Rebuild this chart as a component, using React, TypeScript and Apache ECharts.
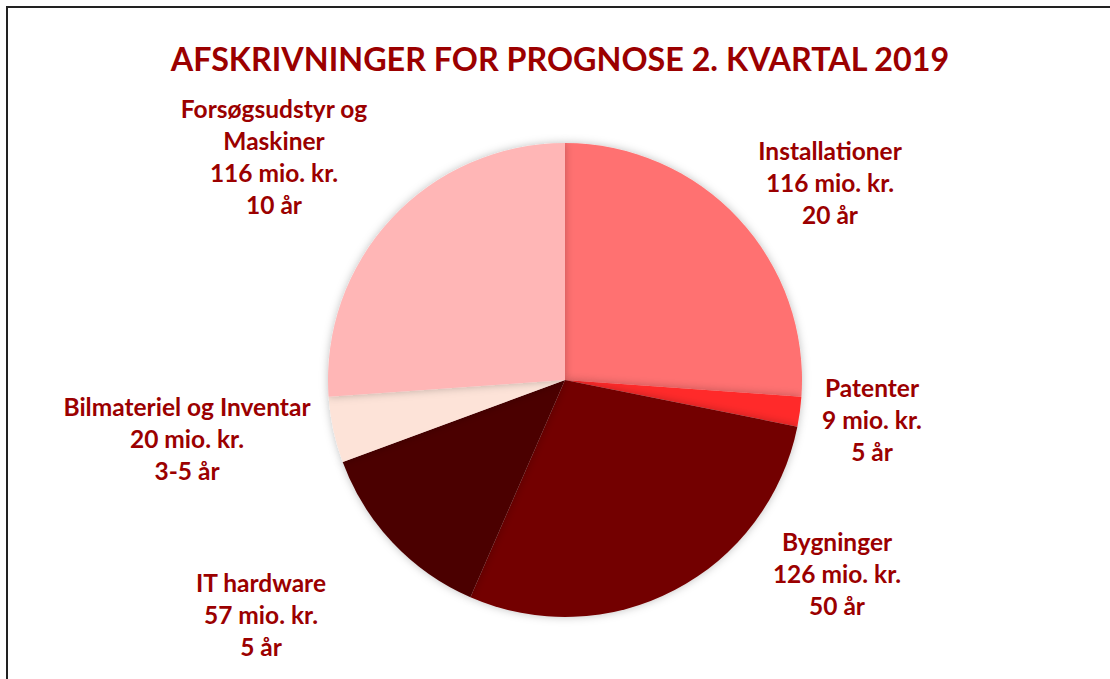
import React, { useEffect, useRef } from "react";
import * as echarts from "echarts";

const categories = [
  "Installationer",
  "Patenter",
  "Bygninger",
  "IT hardware",
  "Bilmateriel og Inventar",
  "Forsøgsudstyr og\nMaskiner",
];
const values = [116, 9, 126, 57, 20, 116];
const years = ["20 år", "5 år", "50 år", "5 år", "3-5 år", "10 år"];
const colors = ["#FF7171", "#FF2B2B", "#730000", "#4C0000", "#FDE3D8", "#FFB6B6"];
const labelPos: [number, number][] = [
  [830, 182],
  [872, 419],
  [837, 573],
  [261, 614],
  [187, 438],
  [274, 156],
];

export default function App() {
  const ref = useRef<HTMLDivElement>(null);
  useEffect(() => {
    const chart = echarts.init(ref.current!, undefined, { renderer: "svg" });
    const textColor = "#9B0000";
    chart.setOption({
      animation: false,
      backgroundColor: "#ffffff",
      title: {
        text: "AFSKRIVNINGER FOR PROGNOSE 2. KVARTAL 2019",
        left: 555,
        top: 37,
        textAlign: "center",
        textStyle: {
          fontFamily: "Lato",
          fontWeight: "bold",
          fontSize: 32.3,
          color: textColor,
        },
      },
      graphic: [
        {
          type: "rect",
          shape: { x: 7, y: 7, width: 1200, height: 800 },
          style: { fill: "none", stroke: "#222", lineWidth: 2 },
          silent: true,
        },
      ],
      series: [
        {
          type: "pie",
          center: [565, 380],
          radius: 237,
          startAngle: 90,
          clockwise: true,
          data: categories.map((c, i) => ({
            name: c,
            value: values[i],
            itemStyle: { color: colors[i] },
          })),
          itemStyle: {
            shadowBlur: 8,
            shadowColor: "rgba(0,0,0,0.25)",
          },
          label: {
            show: true,
            position: "outside",
            formatter: (p: any) =>
              `${p.name}\n${p.value} mio. kr.\n${years[p.dataIndex]}`,
            color: textColor,
            fontFamily: "Lato",
            fontWeight: "bold",
            fontSize: 24.5,
            lineHeight: 32,
            align: "center",
          },
          labelLine: { show: false },
          labelLayout: (params: any) => {
            const [x, y] = labelPos[params.dataIndex];
            return { x, y, align: "center", verticalAlign: "middle" };
          },
          emphasis: { disabled: true },
        },
      ],
    });
    return () => chart.dispose();
  }, []);
  return (
    <div
      ref={ref}
      style={{ position: "fixed", left: 0, top: 0, width: 1110, height: 679 }}
    />
  );
}
